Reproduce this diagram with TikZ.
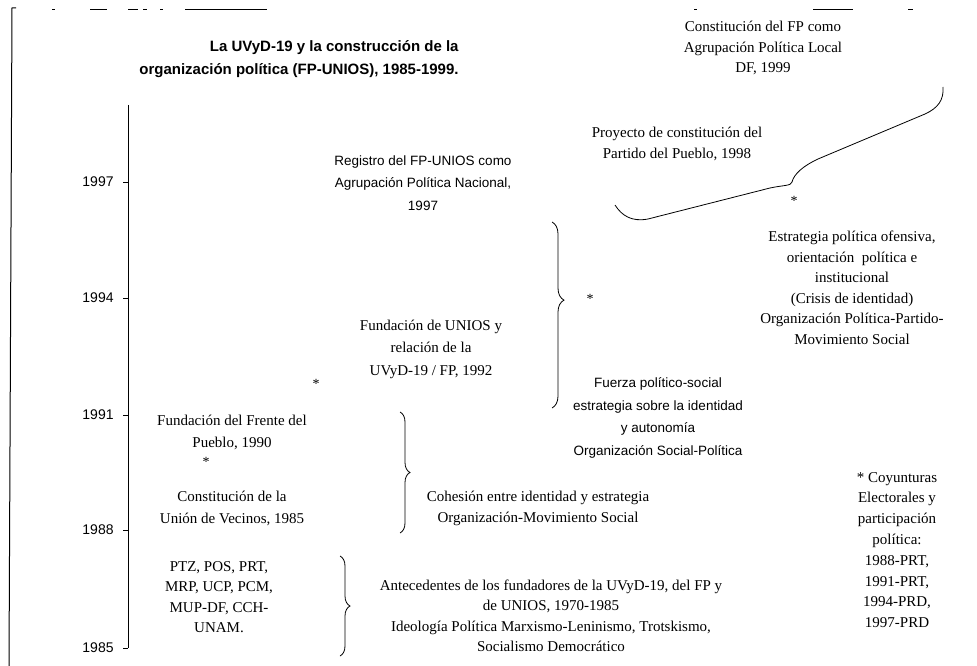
\documentclass[tikz,border=0pt]{standalone}
\usepackage{fontspec}
\setmainfont{Liberation Serif}
\setsansfont{Liberation Sans}
\usetikzlibrary{decorations.pathreplacing}

\begin{document}
\begin{tikzpicture}[x=1pt,y=-1pt,line width=0.8pt,
  serif/.style={font=\fontsize{15}{20.5}\selectfont, align=center, inner sep=0pt},
  sans/.style={font=\sffamily\fontsize{13.5}{22.5}\selectfont, align=center, inner sep=0pt},
  titletext/.style={font=\sffamily\bfseries\fontsize{15}{23}\selectfont, align=right, inner sep=0pt},
  yearlabel/.style={font=\sffamily\fontsize{14}{15}\selectfont, anchor=east, inner sep=0pt},
  starmark/.style={font=\fontsize{14}{15}\selectfont, inner sep=0pt},
  bracket/.style={decorate, decoration={brace, amplitude=#1}},
  bracket/.default=10pt]
\useasboundingbox (0,0) rectangle (977,666);

% frame remnants
\draw[line width=1pt] (16,8) -- (12,8) -- (9,666);
\foreach \a/\b in {52/55, 90/107, 128/138, 143/147, 160/163, 185/267, 694/697, 813/853, 908/913}
  \draw[line width=1pt] (\a,10) -- (\b,10);

% title
\node[titletext, anchor=east] (title) at (459,59) {La UVyD-19 y la construcción de la\\organización política (FP-UNIOS), 1985-1999.};

% time axis
\coordinate (axtop) at (128,105);
\coordinate (axbot) at (128,648);
\draw (axtop) -- (axbot);
\foreach \yr/\yy in {1997/182, 1994/298, 1991/415, 1988/530, 1985/648} {
  \draw (123,\yy) -- (128,\yy);
  \node[yearlabel] (y\yr) at (114,\yy) {\yr};
}

% top events
\node[serif] (cfp) at (763,48) {Constitución del FP como\\Agrupación Política Local\\DF, 1999};
\node[serif] (proy) at (677,144) {Proyecto de constitución del\\Partido del Pueblo, 1998};
\node[starmark] (s4) at (794,201) {*};
\coordinate (tb1) at (615,205);
\coordinate (tbtip) at (792,182);
\coordinate (tb2) at (943,87);
\draw (tb1) .. controls (622,216) and (632,222) .. (648,219) -- (770,188)
      .. controls (784,185) and (791,186) .. (tbtip);
\draw (tbtip) .. controls (794,174) and (803,166) .. (818,159) -- (925,114)
      .. controls (938,108) and (944,100) .. (tb2);
\node[serif] (estr) at (852,288) {Estrategia política ofensiva,\\orientación\ \ política e\\institucional\\(Crisis de identidad)\\Organización Política-Partido-\\Movimiento Social};

% 1991-1997
\node[sans] (reg) at (423,183) {Registro del FP-UNIOS como\\Agrupación Política Nacional,\\1997};
\node[serif, font=\fontsize{15}{22.5}\selectfont] (unios) at (431,349) {Fundación de UNIOS y\\relación de la\\UVyD-19 / FP, 1992};
\node[starmark] (s3) at (316,384) {*};
\coordinate (b3t) at (552,222);
\coordinate (b3b) at (552,408);
\draw[bracket=12pt, decoration={aspect=0.42}] (b3t) -- (b3b);
\node[starmark] (s3b) at (590,299) {*};
\node[sans] (fuerza) at (658,418) {Fuerza político-social\\estrategia sobre la identidad\\y autonomía\\Organización Social-Política};

% 1988-1991
\node[serif, font=\fontsize{15}{22}\selectfont] (ffp) at (232,432) {Fundación del Frente del\\Pueblo, 1990};
\node[starmark] (s2) at (206,462) {*};
\node[serif, font=\fontsize{15}{22}\selectfont] (cuv) at (232,508) {Constitución de la\\Unión de Vecinos, 1985};
\coordinate (b2t) at (400,412);
\coordinate (b2b) at (400,533);
\draw[bracket] (b2t) -- (b2b);
\node[serif, font=\fontsize{15}{21}\selectfont] (coh) at (538,508) {Cohesión entre identidad y estrategia\\Organización-Movimiento Social};

% 1985-1988
\node[serif] (ptz) at (219,597) {PTZ, POS, PRT,\\MRP, UCP, PCM,\\MUP-DF, CCH-\\UNAM.};
\coordinate (b1t) at (340,556);
\coordinate (b1b) at (340,656);
\draw[bracket] (b1t) -- (b1b);
\node[serif] (ant) at (551,616) {Antecedentes de los fundadores de la UVyD-19, del FP y\\de UNIOS, 1970-1985\\Ideología Política Marxismo-Leninismo, Trotskismo,\\Socialismo Democrático};

% note on elections
\node[serif, font=\fontsize{15}{20.8}\selectfont] (coy) at (897,550) {* Coyunturas\\Electorales y\\participación\\política:\\1988-PRT,\\1991-PRT,\\1994-PRD,\\1997-PRD};
\end{tikzpicture}
\end{document}
